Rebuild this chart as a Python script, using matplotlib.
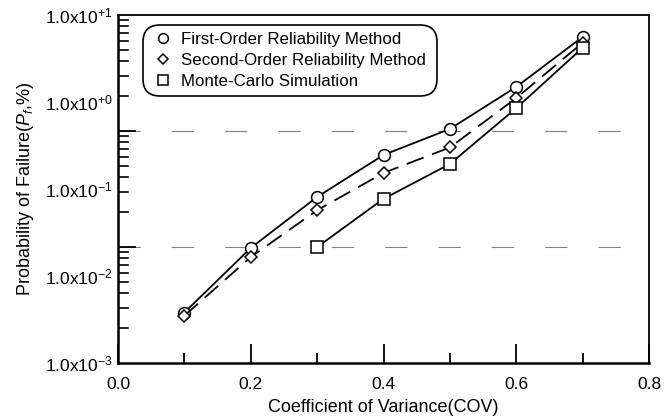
import numpy as np
import matplotlib.pyplot as plt
from matplotlib.lines import Line2D
from matplotlib.ticker import NullLocator

plt.rcParams['font.family'] = ['Liberation Sans', 'DejaVu Sans']
plt.rcParams['mathtext.fontset'] = 'custom'
plt.rcParams['mathtext.rm'] = 'Liberation Sans'
plt.rcParams['mathtext.it'] = 'Liberation Sans:italic'

# data
cov = [0.1, 0.2, 0.3, 0.4, 0.5, 0.6, 0.7]
form = [0.0038, 0.021, 0.081, 0.246, 0.49, 1.49, 5.6]
sorm = [0.0035, 0.0165, 0.057, 0.153, 0.30, 1.11, 4.8]
mcs_cov = [0.3, 0.4, 0.5, 0.6, 0.7]
mcs = [0.0215, 0.077, 0.194, 0.85, 4.2]

ylab_vals = [1e-3, 1e-2, 1e-1, 1e0, 1e1]
ylab_text = [r'1.0x10$^{-3}$', r'1.0x10$^{-2}$', r'1.0x10$^{-1}$',
             r'1.0x10$^{+0}$', r'1.0x10$^{+1}$']
xticks = [0.0, 0.2, 0.4, 0.6, 0.8]
xtick_text = ['0.0', '0.2', '0.4', '0.6', '0.8']

# the original y axis really holds 3 log decades under 4 decade labels
ndec = 3
stretch = 4.0 / 3.0

dec_y = []
for d in range(1, ndec):
    dec_y.append(float(10 ** (1 - stretch * d)))

minor_y = []
for d in range(ndec):
    for m in range(2, 10):
        s = d + 1 - np.log10(m)
        minor_y.append(float(10 ** (1 - stretch * s)))

fig, ax = plt.subplots(figsize=(6.72, 4.16), dpi=100)
fig.subplots_adjust(left=0.1756, right=0.9658, top=0.964, bottom=0.1274)
ax.set_yscale('log')
ax.set_xlim(0, 0.8)
ax.set_ylim(1e-3, 1e1)

for g in dec_y:
    ax.axhline(g, xmax=0.955, color='0.5', lw=0.8, ls=(0, (20, 28)), zorder=0)

ax.plot(cov, form, color='k', lw=1.3, marker='o', ms=8.5, mfc='white', mec='k', mew=1.1)
ax.plot(cov, sorm, color='k', lw=1.3, ls=(0, (10, 5)), marker='D', ms=6.5, mfc='white', mec='k', mew=1.1)
ax.plot(mcs_cov, mcs, color='k', lw=1.3, marker='s', ms=8, mfc='white', mec='k', mew=1.1)

# y labels come from the axis; the tick marks follow the 3-decade layout
ax.set_yticks(ylab_vals, ylab_text)
ax.yaxis.set_minor_locator(NullLocator())
ax.tick_params(axis='y', which='both', length=0, pad=4, labelsize=12.5)
for t in minor_y:
    ax.axhline(t, xmax=0.019, color='k', lw=1.2)
for t in dec_y:
    ax.axhline(t, xmax=0.032, color='k', lw=1.3)

ax.set_xticks(xticks, xtick_text)
ax.set_xticks([0.1, 0.3, 0.5, 0.7], minor=True)
ax.tick_params(axis='x', which='major', direction='in', length=13.5, width=1.3, labelsize=12.5, pad=10, top=False)
ax.tick_params(axis='x', which='minor', direction='in', length=7, width=1.3, top=False)

for side in ['left', 'bottom']:
    ax.spines[side].set_linewidth(1.8)
for side in ['top', 'right']:
    ax.spines[side].set_linewidth(1.3)

ax.set_xlabel('Coefficient of Variance(COV)', fontsize=13, labelpad=5)
ax.set_ylabel(r'Probability of Failure($P_f$,%)', fontsize=13, labelpad=6)

handles = [
    Line2D([], [], ls='none', marker='o', ms=7, mfc='white', mec='k', mew=1.1),
    Line2D([], [], ls='none', marker='D', ms=5.5, mfc='white', mec='k', mew=1.1),
    Line2D([], [], ls='none', marker='s', ms=7, mfc='white', mec='k', mew=1.1),
]
names = ['First-Order Reliability Method', 'Second-Order Reliability Method', 'Monte-Carlo Simulation']
leg = ax.legend(handles, names, loc='upper left', mode='expand',
                bbox_to_anchor=(0.047, 0.7845, 0.554, 0.1865),
                fontsize=12.2, frameon=True, fancybox=True, framealpha=1,
                edgecolor='k', handlelength=1.5, handletextpad=0.3,
                labelspacing=0.33, borderpad=0.43, borderaxespad=0)
leg.get_frame().set_linewidth(1.2)
leg.get_frame().set_boxstyle('round', pad=0, rounding_size=1.0)

fig.savefig('out.png', dpi=100)
